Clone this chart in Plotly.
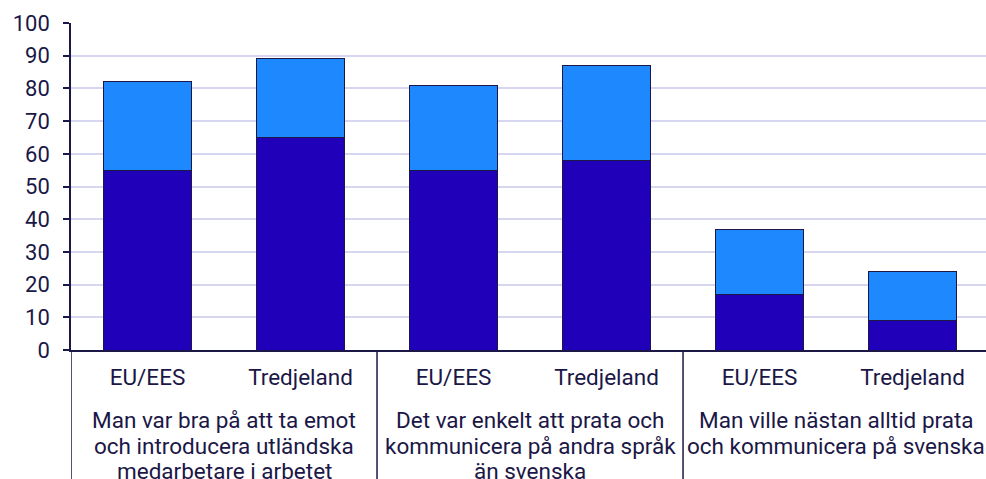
import plotly.graph_objects as go

group_lines = [
    ["Man var bra på att ta emot", "och introducera utländska", "medarbetare i arbetet"],
    ["Det var enkelt att prata och", "kommunicera på andra språk", "än svenska"],
    ["Man ville nästan alltid prata", "och kommunicera på svenska"],
]
subcats = ["EU/EES", "Tredjeland"]
series_bottom = [55, 65, 55, 58, 17, 9]
series_top = [27, 24, 26, 29, 20, 15]
series_names = ["Instämmer helt", "Instämmer delvis"]

n_sub = len(subcats)
xpos = list(range(len(group_lines) * n_sub))
ticktext = [s for _ in group_lines for s in subcats]

NAVY = "#1b1746"
FONT = "Roboto"
FS = 22
FSX = 22.5
W, H, ML, MT, MB = 986, 479, 71, 23, 129
plot_h = H - MT - MB
axis_y = H - MB


def py(pix):
    """pixel row -> paper y coordinate"""
    return (axis_y - pix) / plot_h


fig = go.Figure()
fig.add_trace(go.Bar(x=xpos, y=series_bottom, name=series_names[0], width=0.575,
                     marker=dict(color="#2000b8", line=dict(color=NAVY, width=1))))
fig.add_trace(go.Bar(x=xpos, y=series_top, name=series_names[1], width=0.575,
                     marker=dict(color="#1e88ff", line=dict(color=NAVY, width=1))))

line_rows = [419.5, 445.5, 471.5]
for gi, lines in enumerate(group_lines):
    left = gi * n_sub - 0.5
    fig.add_shape(type="line", xref="x", yref="paper", x0=left, x1=left,
                  y0=0, y1=py(H + 5), line=dict(color=NAVY, width=1.5), layer="above")
    center = gi * n_sub + (n_sub - 1) / 2
    for li, txt in enumerate(lines):
        fig.add_annotation(x=center, xref="x", y=py(line_rows[li]), yref="paper",
                           yanchor="middle", xanchor="center", text=txt, showarrow=False,
                           font=dict(family=FONT, size=FSX, color=NAVY))
end = len(group_lines) * n_sub - 0.5
fig.add_shape(type="line", xref="x", yref="paper", x0=end, x1=end,
              y0=0, y1=py(H + 5), line=dict(color=NAVY, width=1.5), layer="above")

fig.update_layout(
    barmode="stack",
    width=W, height=H,
    margin=dict(l=ML, r=0, t=MT, b=MB),
    plot_bgcolor="white", paper_bgcolor="white",
    showlegend=False,
    font=dict(family=FONT, size=FS, color=NAVY),
    xaxis=dict(range=[-0.5, 5.48], showline=True, linecolor=NAVY, linewidth=1.5,
               tickvals=xpos, ticktext=ticktext, ticks="", showgrid=False,
               zeroline=False, automargin=False, ticklabelstandoff=6,
               tickfont=dict(family=FONT, size=FSX, color=NAVY)),
    yaxis=dict(range=[0, 100], dtick=10, showline=True, linecolor=NAVY, linewidth=1.5,
               ticks="outside", ticklen=6, tickcolor=NAVY, tickwidth=1.5,
               gridcolor="#d6d6f0", gridwidth=1.5, zeroline=False, automargin=False,
               tickfont=dict(family=FONT, size=FS, color=NAVY), ticklabelstandoff=9),
)
fig.write_html("out.html", config={"displayModeBar": False},
               post_script="document.body.style.margin='0';document.body.style.overflow='hidden';")
